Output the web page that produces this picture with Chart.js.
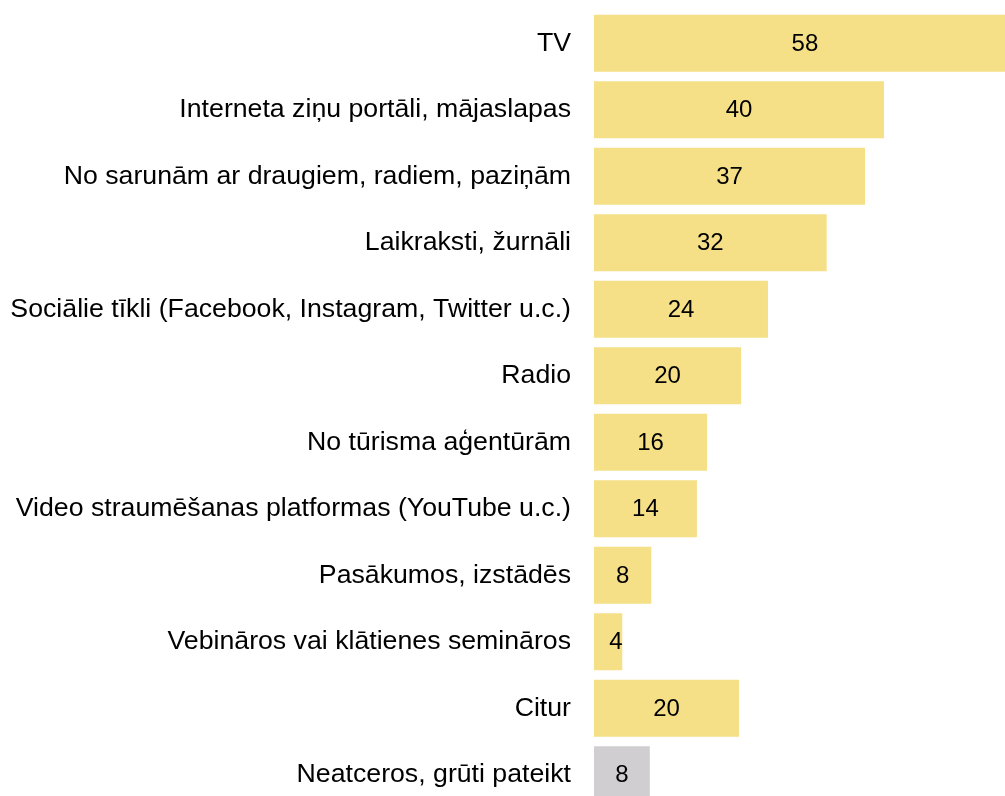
<!DOCTYPE html>
<html>
<head>
<meta charset="utf-8">
<script src="https://cdn.jsdelivr.net/npm/chart.js@4"></script>
<style>
	html, body { margin: 0; padding: 0; background: #fff; overflow: hidden; }
	#wrap { width: 1005px; height: 808px; position: relative; }
</style>
</head>
<body>
<div id="wrap"><canvas id="myChart"></canvas></div>
<script>
const categories = [
	'TV',
	'Interneta ziņu portāli, mājaslapas',
	'No sarunām ar draugiem, radiem, paziņām',
	'Laikraksti, žurnāli',
	'Sociālie tīkli (Facebook, Instagram, Twitter u.c.)',
	'Radio',
	'No tūrisma aģentūrām',
	'Video straumēšanas platformas (YouTube u.c.)',
	'Pasākumos, izstādēs',
	'Vebināros vai klātienes semināros',
	'Citur',
	'Neatceros, grūti pateikt',
];
const values = [58.2, 40.0, 37.4, 32.1, 24.0, 20.3, 15.6, 14.2, 7.9, 3.9, 20.0, 7.7];
const barColors = ['#F5DF87', '#F5DF87', '#F5DF87', '#F5DF87', '#F5DF87', '#F5DF87',
	'#F5DF87', '#F5DF87', '#F5DF87', '#F5DF87', '#F5DF87', '#D0CED0'];

// draws rounded values in the middle of each bar
const valueLabels = {
	id: 'valueLabels',
	afterDatasetsDraw(chart) {
		const ctx = chart.ctx;
		const meta = chart.getDatasetMeta(0);
		ctx.save();
		ctx.font = '24px "Liberation Sans", Arial, sans-serif';
		ctx.fillStyle = '#000';
		ctx.textAlign = 'center';
		ctx.textBaseline = 'middle';
		meta.data.forEach((bar, i) => {
			let x = (bar.base + bar.x) / 2;
			if (x < bar.base + 22) x = bar.base + 22;
			ctx.fillText(Math.round(values[i]), x, bar.y + 1);
		});
		ctx.restore();
	},
};

const ctx = document.getElementById('myChart');
new Chart(ctx, {
	type: 'bar',
	data: {
		labels: categories,
		datasets: [
			{
				data: values,
				backgroundColor: barColors,
				hoverBackgroundColor: barColors,
				barPercentage: 0.86,
				categoryPercentage: 1,
			},
		],
	},
	options: {
		indexAxis: 'y',
		responsive: true,
		maintainAspectRatio: false,
		animation: false,
		layout: {
			padding: { top: 10, right: 0, bottom: 0, left: 0 },
		},
		scales: {
			x: {
				display: false,
				min: 0,
				max: 56.7,
			},
			y: {
				border: { display: false },
				grid: { display: false, drawTicks: false },
				ticks: {
					color: '#000',
					padding: 23,
					font: { family: '"Liberation Sans", Arial, sans-serif', size: 26.7 },
				},
				afterFit(scale) {
					scale.width = 594;
					scale.paddingTop = 0;
					scale.paddingBottom = 0;
				},
			},
		},
		plugins: {
			legend: { display: false },
			tooltip: { enabled: false },
		},
		events: [],
	},
	plugins: [valueLabels],
});
</script>
</body>
</html>
